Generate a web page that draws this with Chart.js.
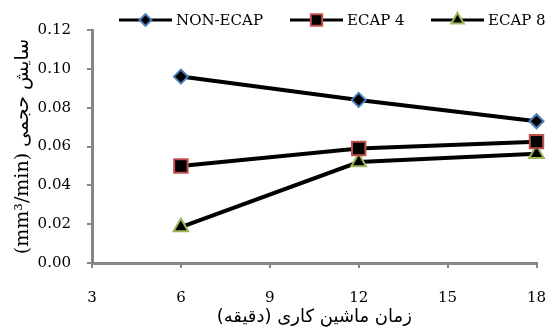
<!DOCTYPE html>
<html lang="fa">
<head>
    <meta charset="UTF-8">
    <title>سایش حجمی</title>
    <script src="https://cdn.jsdelivr.net/npm/chart.js"></script>
    <style>
        body {
            margin: 0;
            background: #fff;
        }
        #chartContainer {
            width: 548px;
            height: 328px;
        }
    </style>
</head>
<body>
    <div id="chartContainer">
        <canvas id="wearChart"></canvas>
    </div>

    <script>
        // Data
        const times = [6, 12, 18];
        const nonEcap = [0.096, 0.084, 0.073];
        const ecap4 = [0.050, 0.059, 0.0625];
        const ecap8 = [0.0185, 0.052, 0.0563];
        const seriesNames = ['NON-ECAP', 'ECAP 4', 'ECAP 8'];
        const xTicks = [3, 6, 9, 12, 15, 18];
        const yTicks = [0, 0.02, 0.04, 0.06, 0.08, 0.10, 0.12];

        const axisGray = '#868686';
        const tickFont = { family: '"DejaVu Serif", serif', size: 15 };

        function series(name, values, style, radius, edge) {
            return {
                label: name,
                data: times.map((t, i) => ({ x: t, y: values[i] })),
                borderColor: '#000',
                borderWidth: 4,
                pointStyle: style,
                pointRadius: radius,
                pointHoverRadius: radius,
                pointBackgroundColor: '#000',
                pointBorderColor: edge,
                pointBorderWidth: 2,
                clip: false
            };
        }

        // legend drawn as line + marker + text, like the original
        const lineLegend = {
            id: 'lineLegend',
            afterDraw(chart) {
                const ctx = chart.ctx;
                ctx.save();
                ctx.font = '15px "DejaVu Serif", serif';
                ctx.textBaseline = 'middle';
                ctx.textAlign = 'left';
                const starts = [119, 290, 431];
                const y = 20;
                chart.data.datasets.forEach((ds, i) => {
                    const x = starts[i];
                    ctx.strokeStyle = ds.borderColor;
                    ctx.lineWidth = 3;
                    ctx.beginPath();
                    ctx.moveTo(x, y);
                    ctx.lineTo(x + 53, y);
                    ctx.stroke();
                    ctx.fillStyle = ds.pointBackgroundColor;
                    ctx.strokeStyle = ds.pointBorderColor;
                    ctx.lineWidth = ds.pointBorderWidth;
                    Chart.helpers.drawPoint(ctx, {
                        pointStyle: ds.pointStyle,
                        radius: ds.pointRadius * 0.85,
                        borderWidth: ds.pointBorderWidth,
                        rotation: 0
                    }, x + 26.5, y);
                    ctx.fillStyle = '#000';
                    ctx.fillText(ds.label, x + 57, y + 1);
                });
                ctx.restore();
            }
        };

        const ctx = document.getElementById('wearChart').getContext('2d');
        const wearChart = new Chart(ctx, {
            type: 'line',
            data: {
                datasets: [
                    series(seriesNames[0], nonEcap, 'rectRot', 7, '#4a7ebb'),
                    series(seriesNames[1], ecap4, 'rect', 9.5, '#c0504d'),
                    series(seriesNames[2], ecap8, 'triangle', 8.5, '#9bbb59')
                ]
            },
            options: {
                responsive: true,
                maintainAspectRatio: false,
                devicePixelRatio: 1,
                animation: false,
                layout: { padding: { left: 0, top: 30, right: 11, bottom: 0 } },
                plugins: {
                    legend: { display: false },
                    tooltip: { enabled: false }
                },
                scales: {
                    x: {
                        type: 'linear',
                        min: 3,
                        max: 18,
                        afterBuildTicks: s => { s.ticks = xTicks.map(v => ({ value: v })); },
                        afterFit: s => {
                            s.height = 65;
                            s.paddingLeft = 0;
                            s.paddingRight = 0;
                        },
                        border: { color: axisGray, width: 3 },
                        grid: { drawOnChartArea: false, color: axisGray, lineWidth: 2, tickLength: 5 },
                        ticks: { font: tickFont, color: '#000', padding: 21, maxRotation: 0 },
                        title: {
                            display: true,
                            text: 'زمان ماشین کاری (دقیقه)',
                            font: { family: '"DejaVu Sans", sans-serif', size: 18 },
                            color: '#000',
                            padding: { top: 0, bottom: 0 }
                        }
                    },
                    y: {
                        min: 0,
                        max: 0.12,
                        afterBuildTicks: s => { s.ticks = yTicks.map(v => ({ value: v })); },
                        afterFit: s => {
                            s.width = 92;
                            s.paddingTop = 0;
                            s.paddingBottom = 0;
                        },
                        border: { color: axisGray, width: 3 },
                        grid: { drawOnChartArea: false, color: axisGray, lineWidth: 2, tickLength: 5 },
                        ticks: {
                            font: tickFont,
                            color: '#000',
                            padding: 16,
                            callback: v => v.toFixed(2)
                        },
                        title: {
                            display: true,
                            text: '(mm³/min) سایش حجمی',
                            font: { family: '"DejaVu Serif", "DejaVu Sans", serif', size: 19 },
                            color: '#000',
                            padding: { top: 12, bottom: 0 }
                        }
                    }
                }
            },
            plugins: [lineLegend]
        });
    </script>
</body>
</html>
